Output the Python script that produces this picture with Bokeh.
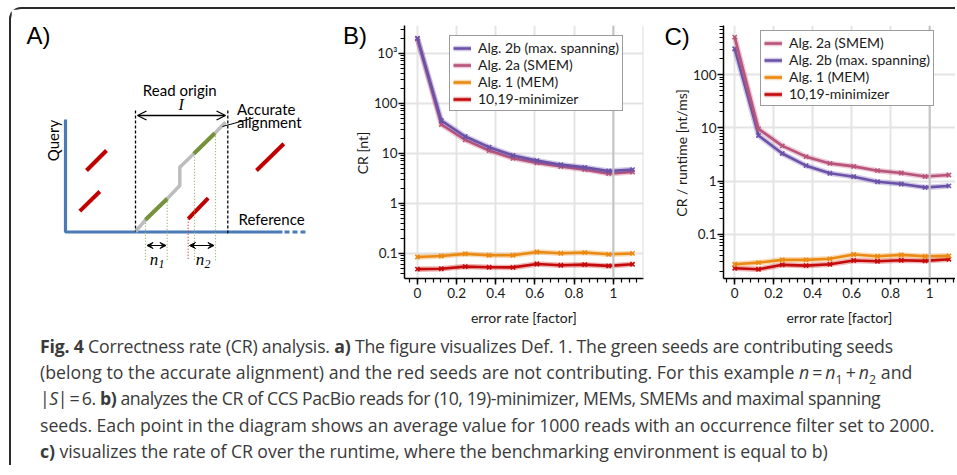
import math
from bokeh.plotting import figure
from bokeh.models import (Range1d, FixedTicker, Legend, LegendItem, Span, Div,
                          Arrow, OpenHead, VeeHead)
from bokeh.layouts import row, column
from bokeh.core.properties import value
from bokeh.embed import file_html
from bokeh.resources import INLINE

# ------------------------------------------------------------------ data
error_rate = [0.0, 0.122, 0.244, 0.366, 0.488, 0.610, 0.732, 0.854, 0.976, 1.098]

# panel B: CR [nt]
cr_alg2b = [2000, 45, 21.6, 13.2, 9.0, 7.1, 5.9, 5.2, 4.4, 4.7]
cr_alg2a = [1950, 37.5, 18.5, 11.3, 7.9, 6.4, 5.4, 4.7, 3.9, 4.2]
cr_alg1 = [0.084, 0.088, 0.097, 0.091, 0.091, 0.106, 0.100, 0.103, 0.095, 0.099]
cr_minimizer = [0.048, 0.049, 0.054, 0.0525, 0.052, 0.061, 0.0575, 0.059, 0.0557, 0.060]

# panel C: CR / runtime [nt/ms]
rt_alg2a = [512, 9.6, 4.6, 2.88, 2.15, 1.89, 1.57, 1.42, 1.22, 1.30]
rt_alg2b = [310, 7.2, 3.3, 1.95, 1.40, 1.21, 0.97, 0.88, 0.76, 0.81]
rt_alg1 = [0.0272, 0.0292, 0.0329, 0.0329, 0.0344, 0.0414, 0.0385, 0.0408, 0.0385, 0.0391]
rt_minimizer = [0.0228, 0.0219, 0.0265, 0.0256, 0.0272, 0.0319, 0.0310, 0.0323, 0.0315, 0.0338]

name_2b = "Alg. 2b (max. spanning)"
name_2a = "Alg. 2a (SMEM)"
name_1 = "Alg. 1 (MEM)"
name_min = "10,19-minimizer"

x_ticks = [0, 0.2, 0.4, 0.6, 0.8, 1, 1.2]
x_tick_labels = ["0", "0.2", "0.4", "0.6", "0.8", "1", "1.2"]
yB_ticks = [0.1, 1, 10, 100, 1000]
yB_tick_labels = ["0.1", "1", "10", "100", "10\u00b3"]
yC_ticks = [0.1, 1, 10, 100]
yC_tick_labels = ["0.1", "1", "10", "100"]

# ------------------------------------------------------------------ style
C_2B = "#6b52a8"
C_2A = "#b9547a"
C_1 = "#ea8a12"
C_MIN = "#c40a0a"
FONT = "Lato"
BOX = "#2b2b2b"

x_minor = [round(i * 0.04, 2) for i in range(-3, 32)]
log_minor = [k * 10.0 ** e for e in range(-3, 4) for k in range(2, 10)]

FRAME_TOP, FRAME_BOTTOM = 25, 278   # page pixels of the plot frames
ROW_TOP, ROW_BOTTOM = 9, 332


def make_plot(width, border_lr, xr, yr, series, yt, ytl, right_edge):
    p = figure(width=width, height=ROW_BOTTOM - ROW_TOP, x_range=Range1d(*xr), y_range=Range1d(*yr),
               y_axis_type="log", output_backend="svg", toolbar_location=None,
               min_border_left=border_lr[0], min_border_right=border_lr[1],
               min_border_top=FRAME_TOP - ROW_TOP, min_border_bottom=ROW_BOTTOM - FRAME_BOTTOM)
    p.outline_line_color = None
    p.background_fill_color = "white"
    p.border_fill_color = "white"

    p.xaxis.ticker = FixedTicker(ticks=x_ticks, minor_ticks=x_minor)
    p.xaxis.major_label_overrides = {t: l for t, l in zip(x_ticks, x_tick_labels)}
    p.yaxis.ticker = FixedTicker(ticks=yt, minor_ticks=log_minor)
    p.yaxis.major_label_overrides = {t: l for t, l in zip(yt, ytl)}
    p.xgrid.ticker = FixedTicker(ticks=x_ticks)
    p.ygrid.ticker = FixedTicker(ticks=yt)
    p.grid.grid_line_color = "#e4e4e4"
    p.grid.grid_line_width = 2
    p.grid.minor_grid_line_color = None

    for ax in (p.xaxis[0], p.yaxis[0]):
        ax.axis_line_color = "black"
        ax.axis_line_width = 1.5
        ax.major_tick_line_color = "black"
        ax.major_tick_line_width = 1.5
        ax.major_tick_in = 0
        ax.major_tick_out = 6
        ax.minor_tick_line_color = "black"
        ax.minor_tick_line_width = 1.2
        ax.minor_tick_in = 0
        ax.minor_tick_out = 4
        ax.major_label_text_font = FONT
        ax.major_label_text_font_size = "13.5px"
        ax.major_label_text_color = "#1a1a1a"
        ax.axis_label_text_font = FONT
        ax.axis_label_text_font_size = "14px"
        ax.axis_label_text_font_style = "normal"
        ax.axis_label_text_color = "#1a1a1a"
    p.xaxis.axis_label = "error rate [factor]"
    p.xaxis.major_label_standoff = 3
    p.xaxis.axis_label_standoff = 8
    p.yaxis.major_label_standoff = 1

    p.add_layout(Span(location=1, dimension="height", line_color="#c4c4c4", line_width=2))
    if right_edge:
        p.add_layout(Span(location=xr[1], dimension="height", line_color="#dedede", line_width=2))

    items = {}
    for name, ys, color in series:
        halo = p.line(error_rate, ys, line_color=color, line_width=5.5, line_alpha=0.3)
        main = p.line(error_rate, ys, line_color=color, line_width=2.6)
        p.scatter(error_rate, ys, marker="x", size=6, line_color=color, line_width=1.6)
        items[name] = [halo, main]
    return p, items


def add_legend(p, items, order, loc):
    leg = Legend(items=[LegendItem(label=n, renderers=items[n]) for n in order], location=loc)
    leg.border_line_color = "#3a3a3a"
    leg.border_line_width = 1
    leg.background_fill_alpha = 1
    leg.label_text_font = FONT
    leg.label_text_font_size = "14px"
    leg.label_text_color = "#1a1a1a"
    leg.glyph_width = 18
    leg.glyph_height = 12
    leg.label_height = 12
    leg.label_standoff = 7
    leg.spacing = 0
    leg.padding = 3
    leg.margin = 0
    p.add_layout(leg)


def label_fig(x0, x1, panel_label, label_x, label_y, ylabel, ylabel_x):
    """Narrow figure holding the panel letter and the rotated y-axis title (page pixel space)."""
    f = figure(width=x1 - x0, height=ROW_BOTTOM - ROW_TOP, x_range=Range1d(x0, x1),
               y_range=Range1d(FRAME_BOTTOM, FRAME_TOP), output_backend="svg",
               toolbar_location=None, min_border_left=0, min_border_right=0,
               min_border_top=FRAME_TOP - ROW_TOP, min_border_bottom=ROW_BOTTOM - FRAME_BOTTOM,
               x_axis_type=None, y_axis_type=None)
    f.outline_line_color = None
    f.grid.visible = False
    f.text(x=[label_x], y=[label_y], text=[panel_label], text_font=value("Liberation Sans"),
           text_font_size="24px", text_baseline="middle", text_align="left", text_color="black")
    f.text(x=[ylabel_x], y=[152.5], text=[ylabel], text_font=value(FONT),
           text_font_size="14px", text_baseline="middle", text_align="center",
           text_color="#1a1a1a", angle=math.pi / 2)
    return f


# ------------------------------------------------------------------ panel B
xrB = (-0.066, 1.154)
yrB = (0.0312, 3580)
pB, itB = make_plot(284, (32, 12), xrB, yrB,
                    [(name_min, cr_minimizer, C_MIN), (name_1, cr_alg1, C_1),
                     (name_2a, cr_alg2a, C_2A), (name_2b, cr_alg2b, C_2B)],
                    yB_ticks, yB_tick_labels, True)
add_legend(pB, itB, [name_2b, name_2a, name_1, name_min], (45, 167))
pBL = label_fig(335, 371, "B)", 342.5, 34.5, "CR [nt]", 361.5)

# ------------------------------------------------------------------ panel C
xrC = (-0.0575, 1.132)
yrC = (0.01466, 847)
pC, itC = make_plot(265, (31, 0), xrC, yrC,
                    [(name_min, rt_minimizer, C_MIN), (name_1, rt_alg1, C_1),
                     (name_2b, rt_alg2b, C_2B), (name_2a, rt_alg2a, C_2A)],
                    yC_ticks, yC_tick_labels, False)
add_legend(pC, itC, [name_2a, name_2b, name_1, name_min], (37, 172))
pCL = label_fig(655, 690, "C)", 664, 35.5, "CR / runtime [nt/ms]", 681)

# ------------------------------------------------------------------ panel A (schematic)
# the schematic uses page pixel coordinates as its data space
pA = figure(width=324, height=ROW_BOTTOM - ROW_TOP, x_range=Range1d(11, 335),
            y_range=Range1d(FRAME_BOTTOM, FRAME_TOP),
            output_backend="svg", toolbar_location=None,
            min_border_left=0, min_border_right=0,
            min_border_top=FRAME_TOP - ROW_TOP, min_border_bottom=ROW_BOTTOM - FRAME_BOTTOM,
            x_axis_type=None, y_axis_type=None)
pA.outline_line_color = None
pA.grid.visible = False

BLUE = "#4a7bb7"
RED = "#c00000"
GREEN = "#76923c"
GREY = "#bdbdbd"

# query / reference axes
pA.line([65, 65, 282], [119, 231.5, 231.5], line_color=BLUE, line_width=3.2)
pA.line([284, 305], [231.5, 231.5], line_color=BLUE, line_width=3.2, line_dash="5 3")
# non-contributing (red) seeds
pA.segment(x0=[86, 79.3, 256, 187.7], y0=[170, 210.7, 170, 218.3],
           x1=[106, 99.3, 283.3, 207.7], y1=[150, 191, 143.3, 197.7],
           line_color=RED, line_width=4)
# accurate alignment
pA.line([135, 145, 166.7, 179.3, 179.3, 193.3, 214.3, 225],
        [231, 219.3, 198.3, 185, 166.7, 153.3, 132.7, 121.7],
        line_color=GREY, line_width=3.5)
pA.segment(x0=[145, 193.3], y0=[219.3, 153.3], x1=[166.7, 214.3], y1=[198.3, 132.7],
           line_color=GREEN, line_width=4)
# read origin bounds
pA.segment(x0=[135, 227.3], y0=[110, 110], x1=[135, 227.3], y1=[231, 232.7],
           line_color="black", line_width=1.3, line_dash="3 2")
pA.add_layout(Arrow(x_start=137, y_start=115, x_end=225, y_end=115, line_width=1.3,
                    start=OpenHead(size=9, line_width=1.3), end=OpenHead(size=9, line_width=1.3)))
# projections of seeds
pA.segment(x0=[145, 166.7, 194, 215], y0=[219.3, 198.3, 153.3, 132.7],
           x1=[145, 166.7, 194, 215], y1=[260, 260, 260, 260],
           line_color="#8aae62", line_width=1.2, line_dash="1 2")
pA.segment(x0=[187.7], y0=[218.3], x1=[187.7], y1=[260],
           line_color="#d83030", line_width=1.2, line_dash="1 2")
pA.add_layout(Arrow(x_start=146.5, y_start=245, x_end=165.5, y_end=245, line_width=1.2,
                    start=VeeHead(size=6, fill_color="black"), end=VeeHead(size=6, fill_color="black")))
pA.add_layout(Arrow(x_start=189, y_start=245, x_end=213.5, y_end=245, line_width=1.2,
                    start=VeeHead(size=6, fill_color="black"), end=VeeHead(size=6, fill_color="black")))
# pointer to alignment
pA.line([222, 253], [126, 117.5], line_color="black", line_width=1)


def txt(x, y, s, size="15px", font=FONT, style="normal", align="left", angle=0.0):
    pA.text(x=[x], y=[y], text=[s], text_font=value(font), text_font_size=size,
            text_font_style=style, text_align=align, text_baseline="middle",
            text_color="black", angle=angle)


txt(26, 35, "A)", size="24px", font="Liberation Sans")
txt(179.3, 89.5, "Read origin", align="center")
txt(180.7, 103.5, "I", size="16px", font="Liberation Serif", style="italic", align="center")
txt(236.5, 108.3, "Accurate")
txt(236.5, 121, "alignment")
txt(238, 218.3, "Reference")
txt(52, 140, "Query", align="center", angle=math.pi / 2)
txt(153.5, 259, "n", size="17px", font="Liberation Serif", style="italic", align="center")
txt(161, 263.5, "1", size="12px", font="Liberation Serif", style="italic", align="center")
txt(199.5, 259, "n", size="17px", font="Liberation Serif", style="italic", align="center")
txt(207, 263.5, "2", size="12px", font="Liberation Serif", style="italic", align="center")

# ------------------------------------------------------------------ caption
sub = '<sub style="font-size:70%;line-height:0">'
SP = '&#8201;'


def line(html, ls):
    return f'<span style="letter-spacing:{ls}px">{html}</span>'


caption_html = (
    '<div style="font-family:\'Open Sans\';font-size:17.7px;line-height:26.2px;color:#3a3a3a;'
    'white-space:nowrap;padding-left:29px;padding-top:1px">'
    + line('<b>Fig. 4</b> Correctness rate (CR) analysis. <b>a)</b> The figure visualizes Def. 1. '
           'The green seeds are contributing seeds', -0.2) + '<br>'
    + line('(belong to the accurate alignment) and the red seeds are not contributing. For this example '
           '<i>n</i>' + SP + '=' + SP + '<i>n</i>' + sub + '1</sub>' + SP + '+' + SP + '<i>n</i>'
           + sub + '2</sub> and', 0.04) + '<br>'
    + line('|<i>S</i>|' + SP + '=' + SP + '6. <b>b)</b> analyzes the CR of CCS PacBio reads for '
           '(10, 19)-minimizer, MEMs, SMEMs and maximal spanning', -0.42) + '<br>'
    + line('seeds. Each point in the diagram shows an average value for 1000 reads with an occurrence '
           'filter set to 2000.', -0.03) + '<br>'
    + line('<b>c)</b> visualizes the rate of CR over the runtime, where the benchmarking environment is '
           'equal to b)', -0.08)
    + '</div>'
)
cap = Div(text=caption_html, width=944, height=133, margin=0)

layout = column(row(pA, pBL, pB, pCL, pC), cap, margin=(7, 0, 0, 9),
                styles={"border-top": f"2px solid {BOX}", "border-left": f"2px solid {BOX}",
                        "border-top-left-radius": "12px"})

open("out.html", "w").write(file_html(layout, INLINE))
